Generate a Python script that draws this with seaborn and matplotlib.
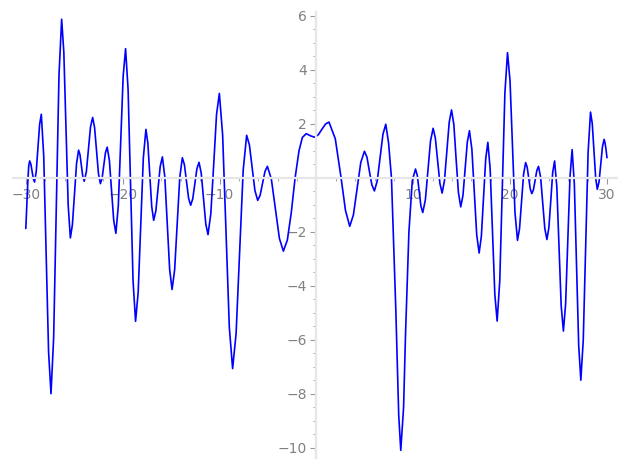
import matplotlib
matplotlib.use('Agg')
import matplotlib.pyplot as plt
from matplotlib.ticker import MultipleLocator
import pandas as pd
import seaborn as sns

# points: each line = one local extremum and the points
# read between it and the next one
x_vals = [
    -30.0, -29.9, -29.8, -29.7,
    -29.6, -29.475, -29.35, -29.225,
    -29.1, -28.925, -28.75, -28.575,
    -28.4, -28.15, -27.9, -27.65,
    -27.4, -27.125, -26.85, -26.575,
    -26.3, -26.075, -25.85, -25.625,
    -25.4, -25.19, -24.98, -24.76,
    -24.55, -24.405, -24.26, -24.115,
    -23.97, -23.75, -23.53, -23.32,
    -23.1, -22.9, -22.7, -22.5,
    -22.3, -22.125, -21.95, -21.775,
    -21.6, -21.375, -21.15, -20.925,
    -20.7, -20.45, -20.2, -19.95,
    -19.7, -19.44, -19.18, -18.93,
    -18.67, -18.40, -18.13, -17.87,
    -17.6, -17.4, -17.2, -17.0,
    -16.8, -16.575, -16.35, -16.125,
    -15.9, -15.65, -15.4, -15.15,
    -14.9, -14.635, -14.37, -14.105,
    -13.84, -13.625, -13.41, -13.195,
    -12.98, -12.765, -12.55, -12.335,
    -12.12, -11.89, -11.65, -11.42,
    -11.19, -10.9, -10.6, -10.31,
    -10.02, -9.68, -9.33, -8.99,
    -8.65, -8.29, -7.92, -7.56,
    -7.2, -6.915, -6.63, -6.345,
    -6.06, -5.81, -5.56, -5.31,
    -5.06, -4.65, -4.23, -3.82,
    -3.41, -3.0, -2.6, -2.2, -1.8, -1.45,
    -1.05, -0.6,
    -0.2, 0.2, 0.6, 0.95,
    1.3, 1.95, 2.55, 3.0,
    3.44, 3.82, 4.2, 4.58,
    4.96, 5.22, 5.47, 5.73,
    5.99, 6.28, 6.57, 6.87,
    7.16, 7.45, 7.75, 8.2, 8.5,
    8.71, 9.0, 9.2, 9.55, 9.9,
    10.23, 10.42, 10.6, 10.79,
    10.98, 11.25, 11.51, 11.78,
    12.05, 12.28, 12.51, 12.75,
    12.98, 13.22, 13.46, 13.71,
    13.95, 14.19, 14.42, 14.66,
    14.9, 15.13, 15.35, 15.58,
    15.8, 16.05, 16.3, 16.55,
    16.8, 17.03, 17.25, 17.48,
    17.7, 17.94, 18.18, 18.42,
    18.66, 18.93, 19.2, 19.46,
    19.73, 19.99, 20.25, 20.5,
    20.76, 20.97, 21.18, 21.39,
    21.6, 21.76, 21.92, 22.08,
    22.24, 22.41, 22.58, 22.76,
    22.93, 23.15, 23.37, 23.58,
    23.8, 24.0, 24.2, 24.39,
    24.59, 24.82, 25.05, 25.27,
    25.5, 25.73, 25.95, 26.18,
    26.4, 26.63, 26.85, 27.08,
    27.3, 27.55, 27.8, 28.05,
    28.3, 28.48, 28.65, 28.83,
    29.0, 29.18, 29.35, 29.53,
    29.7, 29.8, 29.9,
    30.0,
]
y_vals = [
    -1.87, -1.0, -0.2, 0.45,
    0.63, 0.51, 0.24, -0.03,
    -0.15, 0.23, 1.1, 1.98,
    2.36, 0.81, -2.8, -6.44,
    -7.99, -5.91, -1.05, 3.80,
    5.88, 4.66, 1.83, -1.01,
    -2.22, -1.73, -0.6, 0.54,
    1.03, 0.86, 0.45, 0.05,
    -0.12, 0.23, 1.06, 1.89,
    2.24, 1.87, 1.01, 0.16,
    -0.21, -0.01, 0.46, 0.94,
    1.14, 0.66, -0.45, -1.57,
    -2.05, -1.02, 1.37, 3.76,
    4.79, 3.27, -0.26, -3.80,
    -5.31, -4.24, -1.75, 0.73,
    1.80, 1.29, 0.11, -1.06,
    -1.57, -1.22, -0.4, 0.43,
    0.78, 0.04, -1.67, -3.39,
    -4.13, -3.40, -1.69, 0.02,
    0.75, 0.49, -0.13, -0.75,
    -1.01, -0.77, -0.21, 0.34,
    0.58, 0.18, -0.76, -1.70,
    -2.10, -1.32, 0.51, 2.35,
    3.13, 1.60, -1.96, -5.53,
    -7.06, -5.76, -2.74, 0.28,
    1.58, 1.22, 0.37, -0.47,
    -0.83, -0.64, -0.2, 0.24,
    0.43, -0.04, -1.14, -2.24,
    -2.71, -2.3, -1.3, 0.0, 1.0, 1.5,
    1.64, 1.56,
    1.51, 1.6, 1.82, 2.0,
    2.07, 1.45, 0.0, -1.2,
    -1.79, -1.37, -0.4, 0.57,
    0.99, 0.77, 0.25, -0.26,
    -0.48, -0.11, 0.75, 1.62,
    1.99, 1.3, 0.0, -4.9, -8.8,
    -10.09, -8.5, -5.8, -2.0, -0.1,
    0.33, 0.09, -0.47, -1.04,
    -1.28, -0.81, 0.28, 1.37,
    1.84, 1.48, 0.64, -0.20,
    -0.56, -0.10, 0.98, 2.06,
    2.52, 1.98, 0.72, -0.53,
    -1.07, -0.65, 0.34, 1.33,
    1.75, 1.07, -0.52, -2.10,
    -2.78, -2.16, -0.73, 0.71,
    1.32, 0.33, -1.99, -4.31,
    -5.30, -3.81, -0.33, 3.15,
    4.64, 3.60, 1.17, -1.27,
    -2.31, -1.88, -0.87, 0.14,
    0.57, 0.40, 0.0, -0.41,
    -0.58, -0.43, -0.08, 0.28,
    0.43, 0.02, -0.93, -1.87,
    -2.28, -1.84, -0.83, 0.19,
    0.63, -0.32, -2.52, -4.73,
    -5.67, -4.66, -2.31, 0.04,
    1.05, -0.23, -3.22, -6.21,
    -7.49, -6.0, -2.53, 0.95,
    2.44, 2.01, 1.01, 0.01,
    -0.42, -0.14, 0.5, 1.15,
    1.43, 1.3, 1.05,
    0.75,
]

x_ticks = [-30, -20, -10, 10, 20, 30]
y_ticks = [-10, -8, -6, -4, -2, 2, 4, 6]

df = pd.DataFrame({'x': x_vals, 'y': y_vals})

sns.set_style('white')
fig = plt.figure(figsize=(6.27, 4.69), dpi=100)
ax = fig.add_axes([0.02, 0.023, 0.964, 0.951])

sns.lineplot(data=df, x='x', y='y', color='#0000ff', linewidth=1.2,
             estimator=None, sort=False, ax=ax)

ax.set_xlim(-31.37, 31.03)
ax.set_ylim(-10.38, 6.14)

# axes through the origin, sage style
for side in ['top', 'right']:
    ax.spines[side].set_visible(False)
ax.spines['left'].set_position(('data', 0))
ax.spines['bottom'].set_position(('data', 0))
for side in ['left', 'bottom']:
    ax.spines[side].set_color('#e6e6e6')
    ax.spines[side].set_linewidth(1.6)

ax.set_xticks(x_ticks)
ax.set_yticks(y_ticks)
ax.xaxis.set_minor_locator(MultipleLocator(2))
ax.yaxis.set_minor_locator(MultipleLocator(0.5))
ax.tick_params(which='major', direction='out', length=4, width=0.8,
               color='#999999', labelcolor='#808080', labelsize=10, pad=3,
               bottom=True, left=True)
ax.tick_params(which='minor', direction='out', length=2, width=0.6,
               color='#999999', bottom=True, left=True)
ax.set_xlabel('')
ax.set_ylabel('')

fig.savefig('out.png', dpi=100)
